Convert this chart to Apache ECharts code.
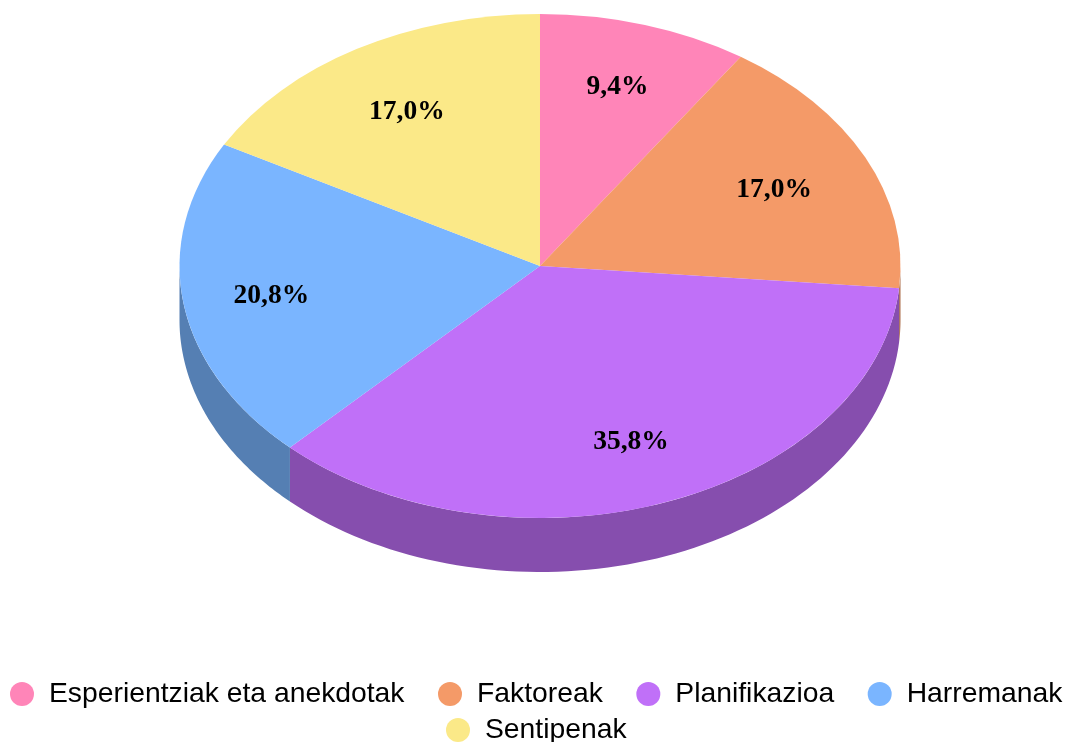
<!DOCTYPE html>
<html>
<head>
<meta charset="utf-8">
<title>Pie</title>
<style>
  html, body { margin: 0; padding: 0; background: #fff; }
  #chart { width: 1068px; height: 742px; }
</style>
<script src="https://cdn.jsdelivr.net/npm/echarts@6/dist/echarts.min.js"></script>
</head>
<body>
<div id="chart"></div>
<script>
const categories = ['Esperientziak eta anekdotak', 'Faktoreak', 'Planifikazioa', 'Harremanak', 'Sentipenak']
const values = [9.4, 17.0, 35.8, 20.8, 17.0]
const colors = ['#ff85b8', '#f49a68', '#c070f8', '#7ab5ff', '#fbe988']

// tilted pie geometry
const cx = 540
const cy = 266
const rx = 360.5
const ry = 252
const depth = 54
const labelDist = 0.72
// hand nudges for the labels, the reference moves a couple of them
const labelNudge = [[2, -6], [0, 2], [0, 6], [-12, 3], [-1, 2]]

const total = values.reduce((a, b) => a + b, 0)

function darken(hex) {
  const n = parseInt(hex.slice(1), 16)
  const c = [n >> 16, (n >> 8) & 255, n & 255].map(v => Math.round(v * 0.7))
  return `rgb(${c.join(',')})`
}

function renderSlice(index) {
  const before = values.slice(0, index).reduce((a, b) => a + b, 0)
  // angles measured clockwise from 12 o'clock
  const a0 = before / total * Math.PI * 2
  const a1 = (before + values[index]) / total * Math.PI * 2
  const mid = (a0 + a1) / 2
  const children = []

  // side wall, only the part of the rim facing the viewer
  const w0 = Math.max(a0, Math.PI / 2)
  const w1 = Math.min(a1, Math.PI * 1.5)
  if (w1 > w0) {
    const top = []
    const bottom = []
    const steps = 80
    for (let i = 0; i <= steps; i++) {
      const a = w0 + (w1 - w0) * i / steps
      const x = cx + rx * Math.sin(a)
      const y = cy - ry * Math.cos(a)
      top.push([x, y])
      bottom.unshift([x, y + depth])
    }
    children.push({
      type: 'polygon',
      shape: { points: top.concat(bottom) },
      style: { fill: darken(colors[index]) }
    })
  }

  children.push({
    type: 'sector',
    x: cx,
    y: cy,
    scaleY: ry / rx,
    shape: {
      cx: 0,
      cy: 0,
      r0: 0,
      r: rx,
      startAngle: a0 - Math.PI / 2,
      endAngle: a1 - Math.PI / 2,
      clockwise: true
    },
    style: { fill: colors[index] }
  })

  children.push({
    type: 'text',
    z2: 100,
    x: cx + rx * labelDist * Math.sin(mid) + labelNudge[index][0],
    y: cy - ry * labelDist * Math.cos(mid) + labelNudge[index][1],
    style: {
      text: values[index].toFixed(1).replace('.', ',') + '%',
      font: 'bold 27.5px "Liberation Serif"',
      fill: '#000',
      align: 'center',
      verticalAlign: 'middle'
    }
  })

  return { type: 'group', children }
}

const legendBase = {
  orient: 'horizontal',
  icon: 'circle',
  itemWidth: 44,
  itemHeight: 24,
  itemGap: 33.5,
  padding: 0,
  selectedMode: false,
  textStyle: { fontFamily: 'Liberation Sans', fontSize: 28.3, color: '#000' }
}

const chart = echarts.init(document.getElementById('chart'))
chart.setOption({
  backgroundColor: '#fff',
  animation: false,
  legend: [
    Object.assign({}, legendBase, { left: 10, top: 680, data: categories.slice(0, 4) }),
    Object.assign({}, legendBase, { left: 446, top: 716, data: categories.slice(4) })
  ],
  series: categories.map((name, index) => ({
    type: 'custom',
    name,
    coordinateSystem: 'none',
    silent: true,
    itemStyle: { color: colors[index] },
    data: [values[index]],
    renderItem: () => renderSlice(index)
  }))
})
</script>
</body>
</html>
